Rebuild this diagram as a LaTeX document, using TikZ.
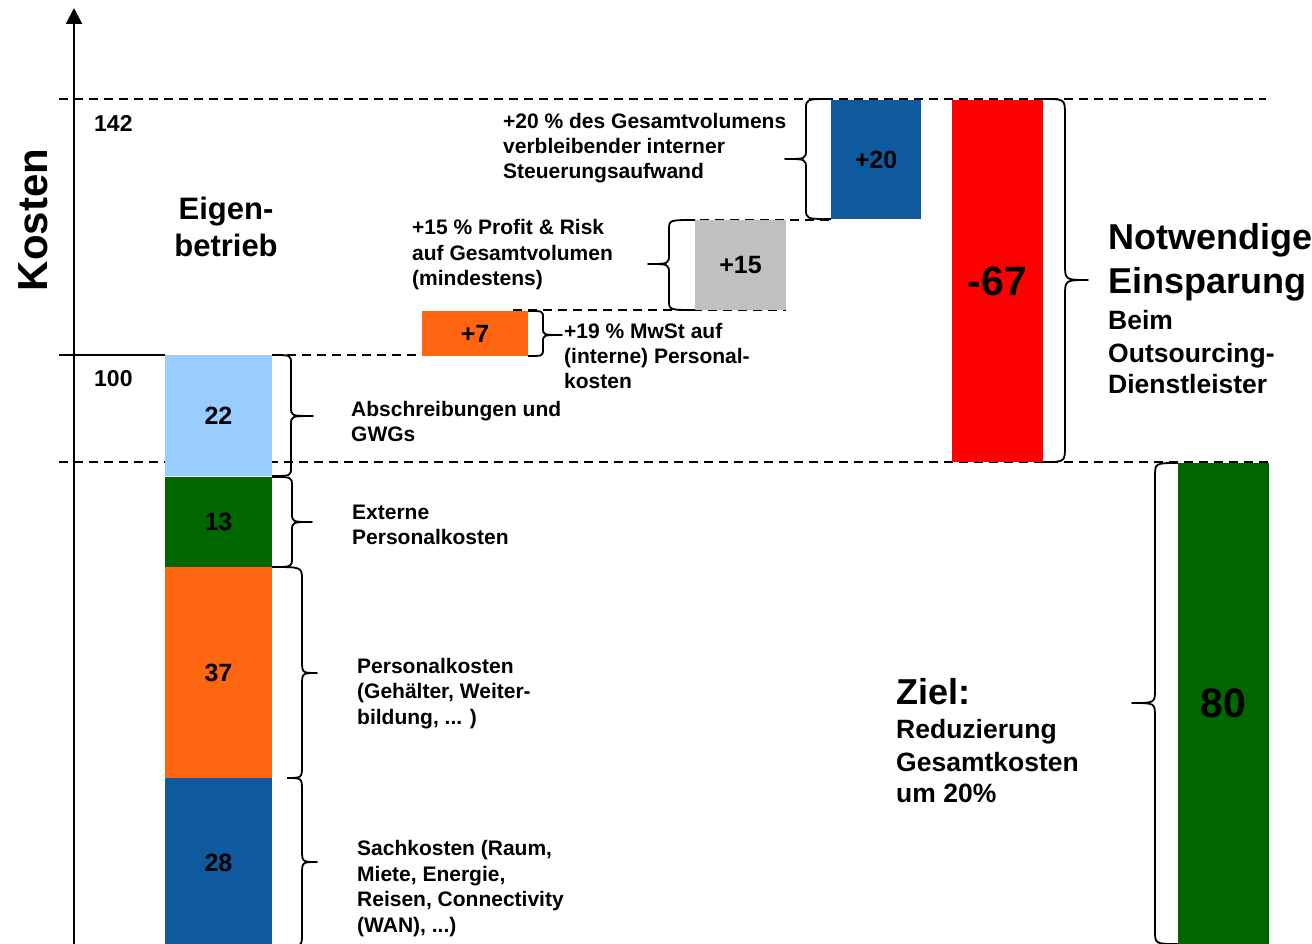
\documentclass[tikz,border=0pt]{standalone}
\usepackage{fontspec}
\setmainfont{Liberation Sans}
\usetikzlibrary{arrows.meta}
\definecolor{lblue}{HTML}{99CCFF}
\definecolor{dgreen}{HTML}{006600}
\definecolor{orng}{HTML}{FF6611}
\definecolor{dblue}{HTML}{0F5A9E}
\definecolor{lgray}{HTML}{C0C0C0}
\definecolor{rred}{HTML}{FF0000}
% brace: x0top, x0bot, xm, xtip, ytop, ytip, ybot, r
\newcommand\mybrace[8]{\draw[br] (#1,#5) .. controls (#3,#5) .. (#3,#5+#8) -- (#3,#6-#8) .. controls (#3,#6) .. (#4,#6) .. controls (#3,#6) .. (#3,#6+#8) -- (#3,#7-#8) .. controls (#3,#7) .. (#2,#7);}
\begin{document}
\begin{tikzpicture}[x=1pt,y=-1pt,
  dl/.style={line width=1.8pt, dash pattern=on 9pt off 6pt},
  br/.style={line width=1.8pt, line join=round},
  bar/.style={inner sep=0pt, outer sep=0pt, font=\bfseries\fontsize{25}{30}\selectfont},
  big/.style={font=\bfseries\fontsize{41}{49}\selectfont},
  lbl/.style={anchor=base west, inner sep=0pt, font=\bfseries\fontsize{21}{25}\selectfont},
  lblm/.style={anchor=base west, inner sep=0pt, font=\bfseries\fontsize{26.5}{32}\selectfont},
  lblh/.style={anchor=base west, inner sep=0pt, font=\bfseries\fontsize{36}{43}\selectfont},
  axlbl/.style={anchor=base west, inner sep=0pt, font=\bfseries\fontsize{23}{28}\selectfont}]
\useasboundingbox (0,0) rectangle (1312,944);
\fill[white] (0,0) rectangle (1312,944);

% axis
\coordinate (ax0) at (74,950);
\coordinate (ax1) at (74,8);
\draw[line width=2pt, -{Triangle[length=16pt,width=16pt]}] (ax0) -- (ax1);

% reference lines
\coordinate (l1a) at (59,99);   \coordinate (l1b) at (1266,99);
\coordinate (l2a) at (59,462);  \coordinate (l2b) at (1270,462);
\coordinate (l3a) at (272,355); \coordinate (l3b) at (450,355);
\coordinate (l4a) at (513,310); \coordinate (l4b) at (786,310);
\coordinate (l5a) at (685,220); \coordinate (l5b) at (831,220);
\coordinate (l6a) at (59,355);  \coordinate (l6b) at (165,355);
\draw[dl] (l1a) -- (l1b);
\draw[dl] (l2a) -- (l2b);
\draw[dl] (l3a) -- (l3b);
\draw[dl] (l4a) -- (l4b);
\draw[dl] (l5a) -- (l5b);
\draw[line width=2pt] (l6a) -- (l6b);

% bars
\node[bar, fill=lblue, minimum width=107pt, minimum height=121pt] (b22) at (218.5,415.5) {22};
\node[bar, fill=dgreen, minimum width=107pt, minimum height=90pt] (b13) at (218.5,522) {13};
\node[bar, fill=orng, minimum width=107pt, minimum height=211pt] (b37) at (218.5,672.5) {37};
\node[bar, fill=dblue, minimum width=107pt, minimum height=170pt] (b28) at (218.5,863) {28};
\node[bar, fill=orng, minimum width=106pt, minimum height=45pt] (p7) at (475,333.5) {+7};
\node[bar, fill=lgray, minimum width=91pt, minimum height=90pt] (p15) at (740.5,265) {+15};
\node[bar, fill=dblue, minimum width=90pt, minimum height=119pt] (p20) at (876,159.5) {+20};
\node[bar, big, fill=rred, minimum width=91pt, minimum height=362pt] (m67) at (997.5,281) {-67};
\node[bar, big, fill=dgreen, minimum width=91pt, minimum height=481pt] (g80) at (1223.5,703.5) {80};

% braces
\mybrace{272}{272}{291}{313}{355}{416}{476}{9}
\mybrace{272}{272}{292}{312}{477}{522}{567}{9}
\mybrace{272}{287}{302}{317}{567}{673}{778}{13}
\mybrace{287}{287}{302}{317}{778}{862}{946}{13}
\mybrace{528}{528}{543}{562}{311}{335}{356}{7}
\mybrace{695}{695}{669}{648}{220}{264}{310}{10}
\mybrace{831}{831}{806}{785}{99}{159}{219}{10}
\mybrace{1043}{1043}{1065}{1088}{99}{280}{462}{16}
\mybrace{1178}{1178}{1155}{1132}{463}{703}{944}{14}

% axis labels
\node[rotate=90, anchor=base, inner sep=0pt, font=\bfseries\fontsize{42}{50}\selectfont] (kosten) at (47,220) {Kosten};
\node[axlbl] (v142) at (94,132) {142};
\node[axlbl] (v100) at (94,386) {100};
\node[anchor=base, inner sep=0pt, font=\bfseries\fontsize{31}{37}\selectfont] (eig1) at (226,220) {Eigen-};
\node[anchor=base, inner sep=0pt, font=\bfseries\fontsize{31}{37}\selectfont] (eig2) at (226,257) {betrieb};

% annotations
\node[lbl] (a1) at (503,129) {+20 \% des Gesamtvolumens};
\node[lbl] (a2) at (503,154) {verbleibender interner};
\node[lbl] (a3) at (503,179) {Steuerungsaufwand};

\node[lbl] (c1) at (412,235) {+15 \% Profit \& Risk};
\node[lbl] (c2) at (412,260) {auf Gesamtvolumen};
\node[lbl] (c3) at (412,285) {(mindestens)};

\node[lbl] (d1) at (564,338) {+19 \% MwSt auf};
\node[lbl] (d2) at (564,363) {(interne) Personal-};
\node[lbl] (d3) at (564,388) {kosten};

\node[lbl] (e1) at (351,416) {Abschreibungen und};
\node[lbl] (e2) at (351,441) {GWGs};

\node[lbl] (f1) at (352,519) {Externe};
\node[lbl] (f2) at (352,544) {Personalkosten};

\node[lbl] (g1) at (357,673) {Personalkosten};
\node[lbl] (g2) at (357,698) {(Gehälter, Weiter-};
\node[lbl] (g3) at (357,724) {bildung, ... )};

\node[lbl] (h1) at (357,855) {Sachkosten (Raum,};
\node[lbl] (h2) at (357,881) {Miete, Energie,};
\node[lbl] (h3) at (357,906) {Reisen, Connectivity};
\node[lbl] (h4) at (357,932) {(WAN), ...)};

\node[lblh] (z0) at (896,704) {Ziel:};
\node[lblm] (z1) at (896,738) {Reduzierung};
\node[lblm] (z2) at (896,771) {Gesamtkosten};
\node[lblm] (z3) at (896,802) {um 20\%};

\node[lblh] (n1) at (1108,250) {Notwendige};
\node[lblh] (n2) at (1108,293) {Einsparung};
\node[lblm] (n3) at (1108,329) {Beim};
\node[lblm] (n4) at (1108,362) {Outsourcing-};
\node[lblm] (n5) at (1108,393) {Dienstleister};
\end{tikzpicture}
\end{document}
